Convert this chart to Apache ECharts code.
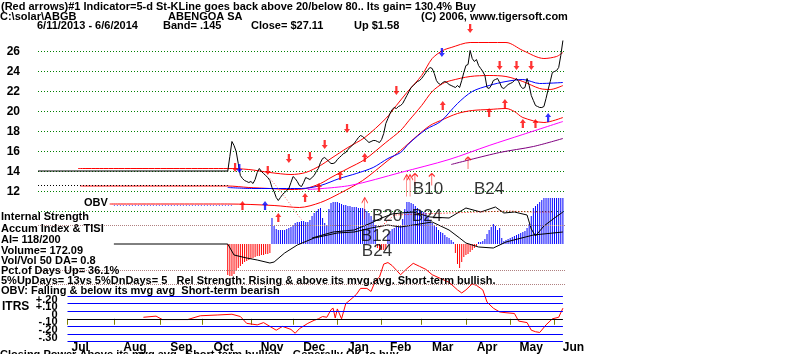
<!DOCTYPE html>
<html>
<head>
<meta charset="utf-8">
<script src="https://cdn.jsdelivr.net/npm/echarts@6/dist/echarts.min.js"></script>
<style>
html, body { margin: 0; padding: 0; background: #fff; }
#chart { width: 800px; height: 354px; }
</style>
</head>
<body>
<div id="chart"></div>
<script>
// x = trading day index, 0 = 6/11/2013 ... 249 = 6/6/2014
const monthNames = ['Jul', 'Aug', 'Sep', 'Oct', 'Nov', 'Dec', 'Jan', 'Feb', 'Mar', 'Apr', 'May', 'Jun'];
const monthStart = [14, 36, 58, 78, 101, 121, 142, 163, 182, 203, 224, 245];
const monthLabelAt = [20, 46, 68, 88, 111, 131, 152, 172, 192, 213, 234, 254];
const priceTicks = [12, 14, 16, 18, 20, 22, 24, 26];
const itrsTicksA = [-30, -10, 10];
const itrsTicksB = [-20, 0, 20];
const itrsLevels = [30, 20, 10, 0, -10, -20, -30];

// daily closes from the first trading day (index 90)
const firstDay = 90;
const closes = [
  14.0, 15.5, 17.0, 16.6, 16.0, 14.8, 13.6, 13.3, 13.1, 13.0,
  12.9, 13.0, 12.8, 13.2, 13.9, 14.3, 14.0, 13.8, 13.6, 13.4,
  13.1, 12.4, 12.0, 11.4, 11.1, 11.4, 11.7, 11.9, 12.1, 12.3,
  12.9, 13.5, 13.3, 13.0, 12.6, 12.5, 12.9, 13.4, 13.3, 13.2,
  13.4, 13.6, 14.0, 14.3, 14.9, 15.3, 15.4, 15.2, 15.0, 14.8,
  14.8, 14.9, 15.2, 15.4, 15.6, 15.8, 15.9, 16.2, 16.4, 16.6,
  16.8, 17.1, 17.4, 17.6, 17.5, 17.3, 17.1, 16.9, 17.0, 17.1,
  17.1, 17.0, 16.9, 17.2, 17.8, 18.8, 19.3, 19.8, 20.2, 20.4,
  20.3, 20.5, 20.6, 20.8, 21.2, 21.6, 22.0, 22.4, 22.6, 22.8,
  23.0, 23.1, 23.3, 23.6, 23.9, 24.2, 24.4, 24.3, 23.8, 23.1,
  22.8, 22.7, 22.9, 23.0, 22.9, 22.7, 22.6, 22.5, 22.4, 22.6,
  22.4, 23.1, 23.9, 24.6, 24.7, 26.1, 25.3, 25.0, 25.2, 24.6,
  24.3, 24.0, 23.6, 22.4, 22.3, 22.6, 23.1, 23.2, 23.3, 22.9,
  22.4, 22.3, 22.5, 22.7, 22.8, 22.9, 23.1, 23.3, 23.0, 22.5,
  22.3, 22.4, 23.3, 22.6, 21.6, 21.1, 20.6, 20.5, 20.4, 20.4,
  20.5, 21.3, 22.2, 23.0, 23.9, 24.0, 24.1, 24.4, 25.6, 27.1
];
const preListingPrice = [[0, 14.05], [90, 14.05]];
const preListingAvg = [[0, 12.6], [90, 12.6]];

const upperBand = [[19, 14.3], [90, 14.3], [100, 14.2], [110, 13.9], [120, 13.7], [127, 13.9], [134, 14.6],
  [139, 15.3], [147, 16.4], [155, 17.4], [165, 19.3], [170, 20.6], [175, 21.9], [182, 23.6], [187, 25.3],
  [192, 26.1], [196, 26.4], [205, 26.9], [222, 26.9], [230, 26.1], [240, 25.3], [246, 25.5], [249, 25.9]];
const midLine = [[20, 12.55], [90, 12.55], [100, 12.4], [110, 12.3], [120, 12.2], [127, 12.3], [134, 12.8],
  [139, 13.4], [147, 14.3], [155, 15.2], [165, 16.9], [172, 18.1], [176, 19.1], [182, 20.6], [187, 22.0],
  [192, 22.8], [196, 23.1], [205, 23.5], [214, 23.6], [222, 23.5], [230, 23.0], [238, 22.3], [243, 22.2], [249, 22.6]];
const lowerBand = [[34, 10.75], [90, 10.75], [112, 10.6], [124, 10.4], [134, 10.9], [143, 11.8], [154, 13.1],
  [166, 15.1], [172, 16.1], [180, 17.6], [186, 18.6], [191, 19.1], [199, 19.8], [206, 20.1], [214, 20.2],
  [222, 20.3], [226, 20.0], [230, 19.4], [240, 18.9], [249, 19.4]];
const ma50 = [[90, 12.4], [102, 12.3], [118, 12.3], [125, 12.3], [134, 12.6], [143, 13.3], [151, 13.8],
  [159, 14.4], [166, 15.3], [172, 15.9], [176, 16.8], [184, 18.2], [191, 19.0], [199, 20.8], [206, 22.0],
  [214, 22.6], [222, 23.0], [230, 23.2], [238, 22.8], [249, 22.9]];
const magentaLine = [[128, 12.2], [148, 12.6], [172, 13.9], [195, 15.2], [214, 16.6], [230, 17.7], [249, 19.0]];
const purpleLine = [[196, 14.7], [219, 15.9], [235, 16.5], [249, 17.3]];
const obvAvg = [[36, 10.6], [92, 10.6]];
const obvDrop = [[110, 13.3], [114, 12.3], [118, 11.2], [122, 10.0], [125, 9.2]];

const redDown = [[93.5, 14.4], [109, 14.1], [119, 15.3], [129, 15.5], [136, 16.7], [146.6, 18.3],
  [170, 22.1], [205, 28.3], [219, 24.6], [227, 24.6], [234, 24.6]];
const redUp = [[97, 10.6], [114, 9.4], [126.7, 11.4], [133.3, 12.4], [143.3, 13.6], [155, 15.4],
  [192, 20.6], [214, 19.9], [221.5, 20.8], [230, 18.8], [236, 18.8]];
const blueUp = [[107.7, 10.6], [242, 19.4]];
const blueDown = [[95.5, 14.3], [191.6, 25.9]];
const thinLong = [[174.9, 12.6], [176.5, 12.6], [155, 10.3]];
const thinShort = [[178.8, 13.2], [186.8, 13.2], [204, 14.85]];

const priceNotes = ['B10', 'B24'];
const priceNoteIdx = [185, 214];
const priceNoteVal = [12.25, 12.25];
const aiNotes = ['B20', 'B24', 'B12', 'B24'];
const aiNoteIdx = [165.6, 184.5, 160.3, 160.8];
const aiNoteVal = [28, 28, 7.5, -7.5];

// accumulation index, daily from index 90
const aiValues = [
  -31, -32, -32, -30, -27, -24, -22, -20, -18, -17, -16, -15, -14, -13, -12, -12, -11, -11, -10, -10, -9,
  26, 18, 15, 14, 14, 14, 14, 15, 16, 17, 19, 21, 22, 22, 23, 23, 22, 22, 24, 28,
  31, 33, 35, 36, 26, 21, 19, 35, 41, 42, 42, 42, 41, 40, 39, 39, 38, 38, 37, 37,
  37, 36, 36, 36, 35, 33, 31, 28, 24, 19, -4, -6, -6, -6, -5,
  10, 13, 15, 16, 17, 17, 18, 25, 35, 42, 42, 41, 40, 38, 36, 34, 33, 32, 31, 27,
  24, 21, 19, 17, 14, 12, 11, 9, 7, 6, 4, 2,
  -9, -20, -24, -18, -13, -11, -10, -8, -6, -4, -2,
  2, 2, 3, 5, 10, 14, 17, 20, 18, 14, 16, 6, 3, 4, 5, 6, 7, 8, 9, 10,
  11, 12, 13, 16, 20, 28, 36, 38, 40, 42, 44, 46, 46, 46, 46, 46, 46, 46, 46, 46, 46
];
const tisiLow = [[36, 0], [90, 0], [93, -11], [99, -14], [104, -16], [110, -19], [112, -18], [117, -9],
  [123, -1], [131, 6], [142, 11], [150, 12], [158, 16], [166, 19], [172, 17], [187, 22], [195, 14],
  [200, 6], [203, 1], [209, -3], [216, -4], [222, 2], [235, 9], [249, 12]];
const tisiHigh = [[130, 6], [140, 12], [150, 14], [158, 21], [163, 26], [168, 30], [172, 31], [178, 32],
  [186, 27], [195, 26], [203, 36], [210, 32], [217, 37], [221, 31], [226, 32], [232, 29], [234, 15],
  [236, 8], [240, 18], [245, 26], [249, 32]];
const aiAvg = [[162, 16], [169, 29], [181, 30], [195, 31], [209, 32], [223, 33], [234, 32], [244, 32]];
const aiGuides = [19, -26, -40];

// ITRS in hundredths
const itrsIdx = [50, 56, 59, 71, 77, 85, 92, 96, 99, 104, 107, 110, 113, 116, 120, 122, 124, 128, 131,
  133, 135, 137, 139, 140, 141, 142, 144, 146, 149, 151, 153, 156, 158, 160, 162, 164, 166, 168, 170,
  172, 175, 178, 181, 184, 187, 191, 195, 199, 201, 203, 206, 208, 210, 211, 213, 216, 219, 222, 226,
  228, 232, 234, 236, 238, 241, 244, 247, 249];
const itrsVal = [2, 3.5, -1, -1, 4, 5, 6, 3, -6, -8, -5, -10, -15, -10, -14, -19, -13, -6, -2,
  0, 3, 2, 12, 14, 1, 13, 0, 20, 27, 32, 40, 40, 36, 50, 55, 72, 74, 70, 64,
  58, 66, 73, 69, 65, 58, 53, 48, 38, 34, 38, 46, 44, 40, 38, 22, 14, 9, 8, 7,
  -3, -5, -15, -17, -18, -8, 0, 2, 14];

const font = '"Liberation Sans", Arial, sans-serif';
const upArrow = 'path://M4,0 L8,5 L5.5,5 L5.5,11 L2.5,11 L2.5,5 L0,5 Z';
const thinArrow = 'path://M3,0 L0,5 M3,0 L6,5 M3,0 L3,20';

function line(data, color, extra) {
  return Object.assign({
    type: 'line', data: data, symbol: 'none', silent: true,
    lineStyle: { color: color, width: 1 }, itemStyle: { color: color }
  }, extra);
}

function dotted(data, color, extra) {
  return line(data, color, Object.assign({
    lineStyle: { color: color, width: 1, type: [1, 2] }
  }, extra));
}

// horizontal lines from x0 to x1, drawn through markLine
function levelLines(values, x0, x1, styleOf) {
  return {
    silent: true, symbol: 'none', label: { show: false },
    data: values.map(v => [{ coord: [x0, v], lineStyle: styleOf(v) }, { coord: [x1, v] }])
  };
}

function arrows(data, color, rotate) {
  return {
    type: 'scatter', data: data, symbol: upArrow, symbolSize: [6, 9], symbolRotate: rotate,
    itemStyle: { color: color }, clip: false, silent: true, z: 6
  };
}

function thin(data, h) {
  return {
    type: 'scatter', data: data, symbol: thinArrow, symbolSize: [6, h], clip: false, silent: true, z: 6,
    itemStyle: { color: 'none', borderColor: '#ff0000', borderWidth: 1 }
  };
}

function notes(names, idx, vals, axis) {
  return {
    type: 'scatter', xAxisIndex: axis, yAxisIndex: axis, clip: false, silent: true, z: 7,
    symbolSize: 1, itemStyle: { color: 'rgba(0,0,0,0)' },
    data: names.map((s, k) => ({ name: s, value: [idx[k], vals[k]] })),
    label: { show: true, position: 'inside', formatter: '{b}', fontSize: 17, color: '#000', fontFamily: font }
  };
}

function text(x, y, s, size) {
  return {
    type: 'text', x: x, y: y, z: 100, silent: true,
    style: { text: s, font: 'bold ' + size + 'px ' + font, fill: '#000', verticalAlign: 'middle' }
  };
}

function itrsAxis(ticks) {
  return {
    type: 'value', gridIndex: 2, min: -30, max: 30, position: 'left', offset: 0,
    splitLine: { show: false }, axisLine: { show: false }, axisTick: { show: false },
    axisLabel: {
      customValues: ticks, margin: 10, lineHeight: 8, verticalAlign: 'bottom',
      color: '#000', fontWeight: 'bold', fontSize: 11, fontFamily: font,
      formatter: v => v === 0 ? '0' : (v > 0 ? '+.' : '-.') + String(Math.abs(v))
    }
  };
}

const chart = echarts.init(document.getElementById('chart'));

chart.setOption({
  animation: false,
  backgroundColor: '#fff',
  grid: [
    { left: 38, top: 31.5, width: 527, height: 200 },
    { left: 38, top: 194, width: 527, height: 100 },
    { left: 67.5, top: 296, width: 518.6, height: 45.6 }
  ],
  xAxis: [
    { type: 'value', gridIndex: 0, min: 0, max: 250, show: false },
    { type: 'value', gridIndex: 1, min: 0, max: 250, show: false },
    {
      type: 'value', gridIndex: 2, min: 14, max: 260,
      axisLine: { show: false }, splitLine: { show: false },
      axisTick: { show: true, customValues: monthStart, length: 6, lineStyle: { color: '#808000' } },
      axisLabel: {
        customValues: monthLabelAt, margin: 0,
        color: '#000', fontWeight: 'bold', fontSize: 12, fontFamily: font,
        formatter: v => monthNames[monthLabelAt.indexOf(v)] || ''
      }
    }
  ],
  yAxis: [
    {
      type: 'value', gridIndex: 0, min: 8, max: 28, interval: 2,
      axisLine: { show: false }, axisTick: { show: false },
      splitLine: { show: true, showMinLine: false, showMaxLine: false, lineStyle: { color: '#008000', type: [1, 2], width: 1 } },
      axisLabel: {
        margin: 18, color: '#000', fontWeight: 'bold', fontSize: 12, fontFamily: font,
        formatter: v => priceTicks.indexOf(v) >= 0 ? String(v) : ''
      }
    },
    {
      type: 'value', gridIndex: 1, min: -50, max: 50, show: false
    },
    itrsAxis(itrsTicksA),
    itrsAxis(itrsTicksB)
  ],
  series: [
    // price panel
    line(upperBand, '#ff0000', { smooth: 0.3, clip: false }),
    line(midLine, '#ff0000', { smooth: 0.3 }),
    line(lowerBand, '#ff0000', { smooth: 0.3 }),
    line(magentaLine, '#ff00ff', { smooth: 0.3 }),
    line(purpleLine, '#800080', { smooth: 0.3 }),
    line(ma50, '#0000ff', { smooth: 0.3 }),
    dotted(obvAvg, '#6060ff'),
    dotted(obvDrop, '#ff6060', { clip: false }),
    line(preListingPrice, '#000'),
    dotted(preListingAvg, '#000'),
    line(closes.map((v, k) => [firstDay + k, v]), '#000', { clip: false }),
    arrows(redDown, '#ff0000', 180),
    arrows(redUp, '#ff0000', 0),
    arrows(blueUp, '#0000ff', 0),
    arrows(blueDown, '#0000ff', 180),
    thin(thinLong, 22),
    thin(thinShort, 12),
    notes(priceNotes, priceNoteIdx, priceNoteVal, 0),

    // accumulation index panel
    {
      type: 'bar', xAxisIndex: 1, yAxisIndex: 1, barWidth: 1, silent: true,
      data: aiValues.map((v, k) => [firstDay + k, v]),
      itemStyle: { color: p => p.value[1] >= 0 ? '#0000ff' : '#ff0000' }
    },
    line(tisiLow, '#000', {
      xAxisIndex: 1, yAxisIndex: 1,
      markLine: levelLines(aiGuides, 0, 250, () => ({ color: '#b08080', width: 1, type: 'dotted' }))
    }),
    line(tisiHigh, '#000', { xAxisIndex: 1, yAxisIndex: 1 }),
    dotted(aiAvg, '#ff0000', { xAxisIndex: 1, yAxisIndex: 1 }),
    notes(aiNotes, aiNoteIdx, aiNoteVal, 1),

    // ITRS panel
    line(itrsIdx.map((d, k) => [d, itrsVal[k]]), '#ff0000', {
      xAxisIndex: 2, yAxisIndex: 2, clip: false, z: 4,
      markLine: levelLines(itrsLevels, 14, 249, v => ({ color: v === 0 ? '#000' : '#0000ff', width: 1, type: 'solid' }))
    })
  ],
  graphic: [
    text(1, 6.5, '(Red arrows)#1 Indicator=5-d St-KLine goes back above 20/below 80.. Its gain= 130.4% Buy', 11),
    text(0, 16.5, 'C:\\solar\\ABGB', 11),
    text(168, 16.5, 'ABENGOA SA', 11),
    text(421, 16.5, '(C) 2006, www.tigersoft.com', 11),
    text(37, 25.5, '6/11/2013 - 6/6/2014', 11),
    text(163, 25.5, 'Band= .145', 11),
    text(251, 25.5, 'Close= $27.11', 11),
    text(354, 25.5, 'Up $1.58', 11),
    text(84, 202.5, 'OBV', 11),
    text(1, 217, 'Internal Strength', 11),
    text(1, 229, 'Accum Index & TISI', 11),
    text(1, 240, 'AI= 118/200', 11),
    text(1, 250.5, 'Volume= 172.09', 11),
    text(1, 261, 'Vol/Vol 50 DA= 0.8', 11),
    text(1, 271, 'Pct.of Days Up= 36.1%', 11),
    text(1, 281, '5%UpDays= 13vs 5%DnDays= 5   Rel Strength: Rising & above its mvg.avg. Short-term bullish.', 11),
    text(1, 291, 'OBV: Falling & below its mvg avg  Short-term bearish', 11),
    text(2, 307, 'ITRS', 12),
    text(0, 354.5, 'Closing Power Above its mvg avg   Short-term bullish.   Generally OK to buy.', 11)
  ]
});
</script>
</body>
</html>
